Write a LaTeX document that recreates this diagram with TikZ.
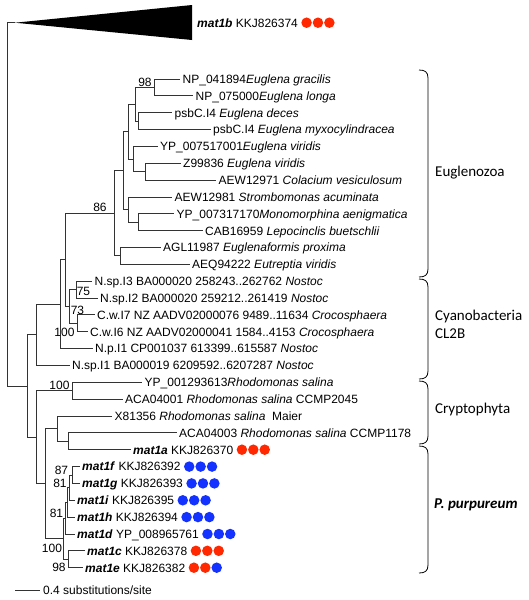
\documentclass[tikz,border=0pt]{standalone}
\usepackage{fontspec}
\setmainfont{Liberation Sans}
\newfontfamily\cladefont{Carlito}
\usepackage{xcolor}
\usetikzlibrary{positioning}
\definecolor{dotred}{RGB}{255,40,0}
\definecolor{dotblue}{RGB}{20,50,255}

\begin{document}
\begin{tikzpicture}[x=1pt, y=-1pt,
  leaf/.style={anchor=west, inner xsep=2.5pt, inner ysep=0pt, text height=8.6pt, text depth=0pt, font=\fontsize{12}{14}\selectfont},
  boot/.style={inner sep=0pt, text height=8.6pt, text depth=0pt, font=\fontsize{12}{14}\selectfont},
  clade/.style={anchor=base west, inner sep=0pt, font=\cladefont\fontsize{15}{18}\selectfont},
  branch/.style={draw=black!80, line width=1pt},
  ball/.style={circle, fill=#1, minimum size=10.5pt, inner sep=0pt}]
\useasboundingbox (0,0) rectangle (528,600);

\coordinate (nGrac) at (154,87.45);
\coordinate (nDec) at (138,121.15);
\coordinate (nEug1) at (135,104.3);
\coordinate (nCol) at (145,171.7);
\coordinate (nVir) at (133,159.05);
\coordinate (nEug2) at (128,131.7);
\coordinate (nMono) at (138,222.25);
\coordinate (nStr) at (128,209.6);
\coordinate (nEug3) at (123,170.65);
\coordinate (nEutr) at (120,255.95);
\coordinate (nEugl) at (114,213.3);
\coordinate (nNos) at (76,289.65);
\coordinate (nCroc) at (77,323.35);
\coordinate (nCyan) at (69,306.5);
\coordinate (n86) at (65,259.9);
\coordinate (nNp) at (60,304.25);
\coordinate (nNsp) at (36,334.9);
\coordinate (nRhod) at (72,390.75);
\coordinate (nM1a) at (68,441.3);
\coordinate (nMaier) at (57,428.65);
\coordinate (nFG) at (72,475);
\coordinate (nFGI) at (69,487.65);
\coordinate (nFGIH) at (67,502.4);
\coordinate (nFGIHD) at (65,518.2);
\coordinate (nCE) at (68,559.25);
\coordinate (nPurp) at (63,538.7);
\coordinate (nCrPu) at (45,483.7);
\coordinate (nCrypt) at (36,437.2);
\coordinate (nIn) at (27,386.05);
\coordinate (root) at (7,204.4);
\coordinate (apex) at (15,22.7);

\fill[black] (apex) -- (192,5) -- (192,40) -- cycle;
\node[leaf] (mat1b) at (194.5,22.7) {\textbf{\textit{mat1b}} KKJ826374};

\node[leaf] (gracilis) at (180,79) {NP\_041894\textit{Euglena gracilis}};
\node[leaf] (longa) at (193,95.9) {NP\_075000\textit{Euglena longa}};
\node[leaf] (deces) at (172,112.7) {psbC.I4 \textit{Euglena deces}};
\node[leaf] (myxo) at (210.5,129.6) {psbC.I4 \textit{Euglena myxocylindracea}};
\node[leaf] (viridisA) at (157.5,146.4) {YP\_007517001\textit{Euglena viridis}};
\node[leaf] (viridisB) at (180.5,163.3) {Z99836 \textit{Euglena viridis}};
\node[leaf] (colacium) at (216,180.1) {AEW12971 \textit{Colacium vesiculosum}};
\node[leaf] (stromb) at (172,197) {AEW12981 \textit{Strombomonas acuminata}};
\node[leaf] (monomorph) at (174,213.8) {YP\_007317170\textit{Monomorphina aenigmatica}};
\node[leaf] (lepocin) at (202.5,230.7) {CAB16959 \textit{Lepocinclis buetschlii}};
\node[leaf] (euglenaf) at (160.5,247.5) {AGL11987 \textit{Euglenaformis proxima}};
\node[leaf] (eutrept) at (189.5,264.4) {AEQ94222 \textit{Eutreptia viridis}};
\node[leaf] (nspI3) at (92,281.2) {N.sp.I3 BA000020 258243..262762 \textit{Nostoc}};
\node[leaf] (nspI2) at (97.5,298.1) {N.sp.I2 BA000020 259212..261419 \textit{Nostoc}};
\node[leaf] (cwI7) at (94.5,314.9) {C.w.I7 NZ AADV02000076 9489..11634 \textit{Crocosphaera}};
\node[leaf] (cwI6) at (87.5,331.8) {C.w.I6 NZ AADV02000041 1584..4153 \textit{Crocosphaera}};
\node[leaf] (npI1) at (92.5,348.6) {N.p.I1 CP001037 613399..615587 \textit{Nostoc}};
\node[leaf] (nspI1) at (69.5,365.5) {N.sp.I1 BA000019 6209592..6207287 \textit{Nostoc}};
\node[leaf] (rsalA) at (142,382.3) {YP\_001293613\textit{Rhodomonas salina}};
\node[leaf] (rsal2045) at (122.5,399.2) {ACA04001 \textit{Rhodomonas salina} CCMP2045};
\node[leaf] (rsalMaier) at (112,416) {X81356 \textit{Rhodomonas salina}\ \ Maier};
\node[leaf] (rsal1178) at (176.5,432.9) {ACA04003 \textit{Rhodomonas salina} CCMP1178};
\node[leaf] (mat1a) at (130.5,449.7) {\textbf{\textit{mat1a}} KKJ826370};
\node[leaf] (mat1f) at (79.5,466.6) {\textbf{\textit{mat1f}} KKJ826392};
\node[leaf] (mat1g) at (79.5,483.4) {\textbf{\textit{mat1g}} KKJ826393};
\node[leaf] (mat1i) at (74.5,500.3) {\textbf{\textit{mat1i}} KKJ826395};
\node[leaf] (mat1h) at (74.5,517.1) {\textbf{\textit{mat1h}} KKJ826394};
\node[leaf] (mat1d) at (74.5,534) {\textbf{\textit{mat1d}} YP\_008965761};
\node[leaf] (mat1c) at (84.5,550.8) {\textbf{\textit{mat1c}} KKJ826378};
\node[leaf] (mat1e) at (82.5,567.7) {\textbf{\textit{mat1e}} KKJ826382};

\foreach \lf/\ca/\cb/\cc in {mat1b/dotred/dotred/dotred, mat1a/dotred/dotred/dotred,
    mat1f/dotblue/dotblue/dotblue, mat1g/dotblue/dotblue/dotblue, mat1i/dotblue/dotblue/dotblue,
    mat1h/dotblue/dotblue/dotblue, mat1d/dotblue/dotblue/dotblue,
    mat1c/dotred/dotred/dotred, mat1e/dotred/dotred/dotblue}{
  \node[ball=\ca, right=0.5pt of \lf] (\lf-a) {};
  \node[ball=\cb, right=0.5pt of \lf-a] (\lf-b) {};
  \node[ball=\cc, right=0.5pt of \lf-b] (\lf-c) {};
}

\draw[branch] (nGrac) |- (gracilis) (nGrac) |- (longa)
  (nDec) |- (deces) (nDec) |- (myxo)
  (nEug1) |- (nGrac) (nEug1) |- (nDec)
  (nCol) |- (viridisB) (nCol) |- (colacium)
  (nVir) |- (viridisA) (nVir) |- (nCol)
  (nEug2) |- (nEug1) (nEug2) |- (nVir)
  (nMono) |- (monomorph) (nMono) |- (lepocin)
  (nStr) |- (stromb) (nStr) |- (nMono)
  (nEug3) |- (nEug2) (nEug3) |- (nStr)
  (nEutr) |- (euglenaf) (nEutr) |- (eutrept)
  (nEugl) |- (nEug3) (nEugl) |- (nEutr)
  (nNos) |- (nspI3) (nNos) |- (nspI2)
  (nCroc) |- (cwI7) (nCroc) |- (cwI6)
  (nCyan) |- (nNos) (nCyan) |- (nCroc)
  (n86) |- (nEugl) (n86) |- (nCyan)
  (nNp) |- (n86) (nNp) |- (npI1)
  (nNsp) |- (nNp) (nNsp) |- (nspI1)
  (nRhod) |- (rsalA) (nRhod) |- (rsal2045)
  (nM1a) |- (rsal1178) (nM1a) |- (mat1a)
  (nMaier) |- (rsalMaier) (nMaier) |- (nM1a)
  (nFG) |- (mat1f) (nFG) |- (mat1g)
  (nFGI) |- (nFG) (nFGI) |- (mat1i)
  (nFGIH) |- (nFGI) (nFGIH) |- (mat1h)
  (nFGIHD) |- (nFGIH) (nFGIHD) |- (mat1d)
  (nCE) |- (mat1c) (nCE) |- (mat1e)
  (nPurp) |- (nFGIHD) (nPurp) |- (nCE)
  (nCrPu) |- (nMaier) (nCrPu) |- (nPurp)
  (nCrypt) |- (nRhod) (nCrypt) |- (nCrPu)
  (nIn) |- (nNsp) (nIn) |- (nCrypt)
  (root) |- (apex) (root) |- (nIn);

\node[boot] (b98) at (145,82) {98};
\node[boot] (b86) at (100,207) {86};
\node[boot] (b75) at (83.5,291) {75};
\node[boot] (b73) at (77.5,310) {73};
\node[boot] (b100c) at (64.5,332) {100};
\node[boot] (b100r) at (59.5,385.5) {100};
\node[boot] (b87) at (61.5,470) {87};
\node[boot] (b81a) at (60,483) {81};
\node[boot] (b81b) at (56.5,513) {81};
\node[boot] (b100p) at (52,548) {100};
\node[boot] (b98p) at (59,567.5) {98};

\foreach \ya/\yb in {70/277, 279/379, 381/444, 446/573}
  \draw[line width=0.8pt] (419,\ya) .. controls (425,\ya) and (428,\ya+2) .. (428,\ya+8)
    -- (428,\yb-8) .. controls (428,\yb-2) and (425,\yb) .. (419,\yb);
\node[clade] (euglenozoa) at (435,176) {Euglenozoa};
\node[clade] (cyano) at (435,320) {Cyanobacteria};
\node[clade] (cl2b) at (435,338) {CL2B};
\node[clade] (crypto) at (435,413) {Cryptophyta};
\node[clade, font=\cladefont\bfseries\itshape\fontsize{15}{18}\selectfont] (purp) at (434,508) {P. purpureum};

\coordinate (bar0) at (15,590);
\coordinate (bar1) at (40,590);
\draw[branch] (bar0) -- (bar1);
\node[leaf] (barlabel) at (40.5,590) {0.4 substitutions/site};
\end{tikzpicture}
\end{document}
